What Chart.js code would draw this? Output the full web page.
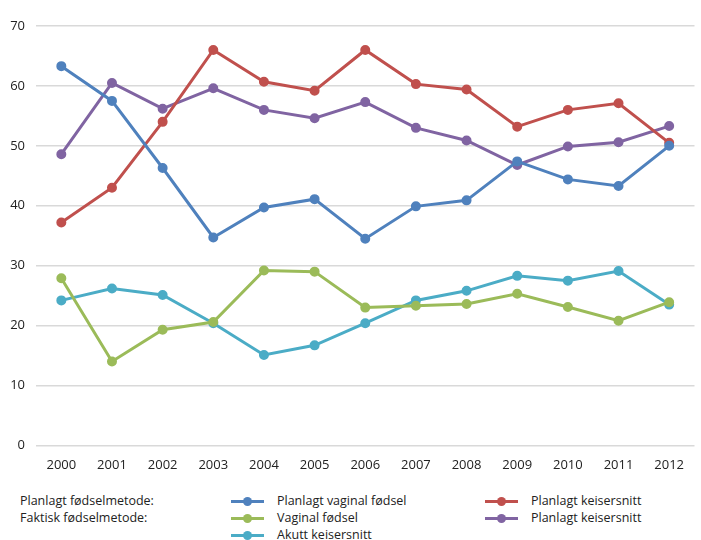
<!DOCTYPE html>
<html>
<head>
<meta charset="utf-8">
<script src="https://cdn.jsdelivr.net/npm/chart.js@4"></script>
<style>
  body { margin: 0; background: #fff; font-family: "Open Sans", sans-serif; }
  #wrap { position: relative; width: 701px; height: 540px; }
  #boks { position: absolute; left: 0; top: 0; width: 701px; height: 489px; }
  .tekst { position: absolute; font-size: 12.5px; color: #222; line-height: 16px; white-space: nowrap; }
  .strek { position: absolute; width: 33px; height: 3px; }
  .prikk { position: absolute; left: 12px; top: -3px; width: 9px; height: 9px; border-radius: 50%; }
</style>
</head>
<body>
<div id="wrap">
  <div id="boks"><canvas id="grafico"></canvas></div>
</div>
<script>
// År og verdier (prosent)
var aar = ['2000','2001','2002','2003','2004','2005','2006','2007','2008','2009','2010','2011','2012'];
var planlagtVaginal = [63.3, 57.5, 46.3, 34.7, 39.7, 41.1, 34.5, 39.9, 40.9, 47.4, 44.4, 43.3, 50.0];
var planlagtKeiser = [37.2, 43.0, 54.0, 66.0, 60.7, 59.2, 66.0, 60.3, 59.4, 53.2, 56.0, 57.1, 50.5];
var vaginalFodsel = [27.9, 14.0, 19.3, 20.6, 29.2, 29.0, 23.0, 23.3, 23.6, 25.3, 23.1, 20.8, 23.9];
var faktiskPlanlagtKeiser = [48.6, 60.5, 56.2, 59.6, 56.0, 54.6, 57.3, 53.0, 50.9, 46.8, 49.9, 50.6, 53.3];
var akuttKeiser = [24.2, 26.2, 25.1, 20.4, 15.1, 16.7, 20.4, 24.2, 25.8, 28.3, 27.5, 29.1, 23.5];
var yTicks = [0, 10, 20, 30, 40, 50, 60, 70];

function serie(label, data, farge) {
  return {
    label: label,
    data: data,
    borderColor: farge,
    backgroundColor: farge,
    borderWidth: 3,
    pointRadius: 3.5,
    pointHoverRadius: 3.5,
    tension: 0
  };
}

var data = {
  labels: aar,
  datasets: [
    serie('Planlagt vaginal fødsel', planlagtVaginal, '#4F81BD'),
    serie('Planlagt keisersnitt', planlagtKeiser, '#C0504D'),
    serie('Vaginal fødsel', vaginalFodsel, '#9BBB59'),
    serie('Planlagt keisersnitt', faktiskPlanlagtKeiser, '#8064A2'),
    serie('Akutt keisersnitt', akuttKeiser, '#4BACC6')
  ]
};

var options = {
  responsive: true,
  maintainAspectRatio: false,
  animation: false,
  layout: { padding: { top: 26, right: 0, bottom: 4, left: 0 } },
  plugins: { legend: { display: false }, tooltip: { enabled: false } },
  scales: {
    x: {
      offset: true,
      grid: { display: false, drawTicks: false },
      border: { display: false },
      ticks: { padding: 12, color: '#222', font: { family: 'Open Sans', size: 13 } }
    },
    y: {
      min: 0,
      max: 70,
      afterFit: function (s) { s.width = 36; },
      afterBuildTicks: function (s) { s.ticks = yTicks.map(function (v) { return { value: v }; }); },
      grid: { color: '#d9d9d9', lineWidth: 1.5, drawTicks: false },
      border: { display: false },
      ticks: { padding: 11, color: '#222', font: { family: 'Open Sans', size: 13 } }
    }
  }
};

var ctx = document.getElementById('grafico').getContext('2d');
var chart = new Chart(ctx, { type: 'line', data: data, options: options });

// Egen forklaring under grafen
var wrap = document.getElementById('wrap');
function tekst(t, x, y) {
  var d = document.createElement('div');
  d.className = 'tekst';
  d.style.left = x + 'px';
  d.style.top = y + 'px';
  d.textContent = t;
  wrap.appendChild(d);
}
function element(ds, x, y) {
  var s = document.createElement('div');
  s.className = 'strek';
  s.style.left = x + 'px';
  s.style.top = (y - 1) + 'px';
  s.style.background = ds.borderColor;
  var p = document.createElement('div');
  p.className = 'prikk';
  p.style.background = ds.borderColor;
  s.appendChild(p);
  wrap.appendChild(s);
  tekst(ds.label, x + 46, y - 8);
}
var rader = [501, 518, 535];
tekst('Planlagt fødselmetode:', 20, rader[0] - 8);
tekst('Faktisk fødselmetode:', 20, rader[1] - 8);
var ds = chart.data.datasets;
element(ds[0], 231, rader[0]);
element(ds[1], 485, rader[0]);
element(ds[2], 231, rader[1]);
element(ds[3], 485, rader[1]);
element(ds[4], 231, rader[2]);
</script>
</body>
</html>
